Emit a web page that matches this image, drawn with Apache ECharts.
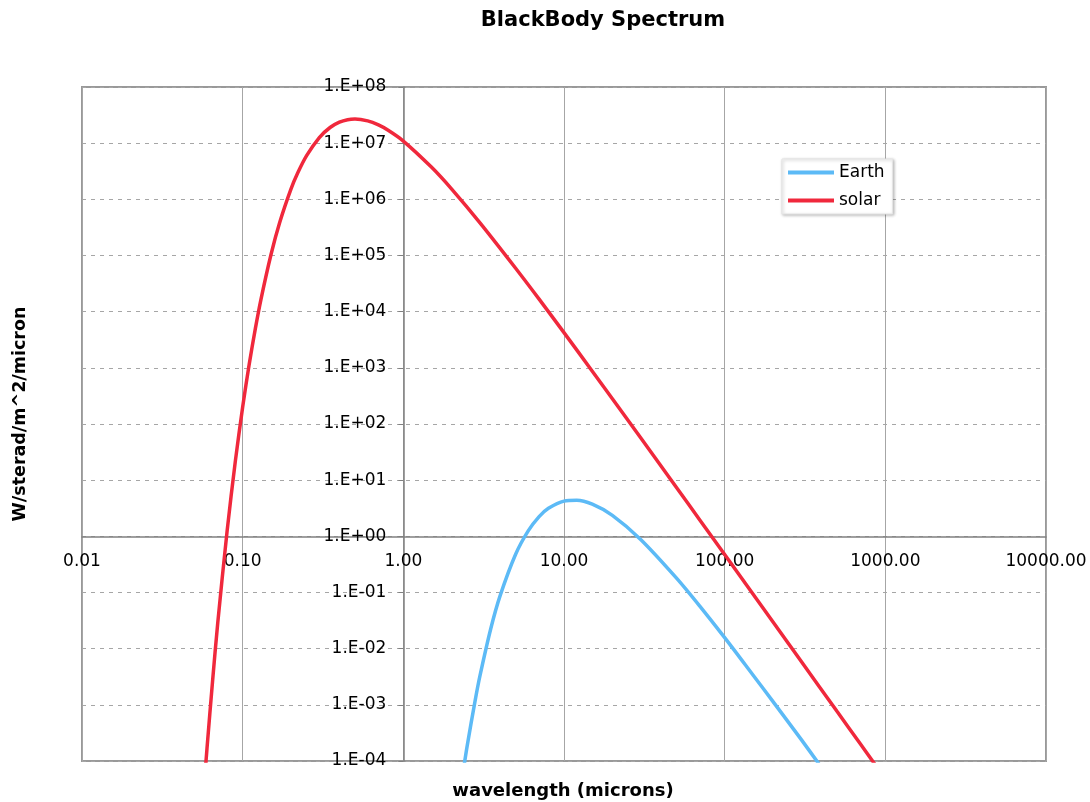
<!DOCTYPE html>
<html>
<head>
<meta charset="utf-8">
<script src="https://cdn.jsdelivr.net/npm/echarts@6/dist/echarts.min.js"></script>
<style>
  html, body { margin: 0; padding: 0; background: #fff; }
  #chart { width: 1090px; height: 802px; }
</style>
</head>
<body>
<div id="chart"></div>
<script>
// wavelengths (microns) and radiance
var solarWl = [0.058, 0.06, 0.065, 0.07, 0.08, 0.09, 0.1, 0.11, 0.12, 0.13, 0.15, 0.17, 0.2, 0.22, 0.25, 0.3, 0.35, 0.4, 0.45, 0.5, 0.6, 0.7, 0.8, 1, 1.5, 2, 3, 5, 7, 10, 15, 20, 30, 50, 70, 100, 150, 200, 300, 500, 700, 870];
var solarVal = [4.8e-5, 1.7e-4, 2.7e-3, 2.9e-2, 1.24, 21.6, 201, 1190, 5040, 1.66e4, 1.03e5, 3.86e5, 1.53e6, 2.93e6, 5.98e6, 1.26e7, 1.9e7, 2.36e7, 2.62e7, 2.69e7, 2.49e7, 2.11e7, 1.71e7, 1.09e7, 3.71e6, 1.52e6, 3.81e5, 5.93e4, 1.67e4, 4230, 872, 282, 56.9, 7.49, 1.96, 0.474, 0.094, 0.0298, 5.9e-3, 7.66e-4, 2.0e-4, 8.4e-5];

var earthWl = [2.3, 2.5, 2.8, 3, 3.5, 4, 5, 6, 7, 8, 10, 12, 15, 20, 30, 50, 70, 100, 150, 200, 300, 400];
var earthVal = [4.1e-5, 1.9e-4, 1.2e-3, 3.3e-3, 0.0226, 0.087, 0.479, 1.26, 2.24, 3.15, 4.24, 4.38, 3.73, 2.36, 0.88, 0.182, 0.0572, 0.0157, 3.4e-3, 1.14e-3, 2.4e-4, 7.7e-5];

var xTickLabels = ['0.01', '0.10', '1.00', '10.00', '100.00', '1000.00', '10000.00'];
var yTickLabels = ['1.E-04', '1.E-03', '1.E-02', '1.E-01', '1.E+00', '1.E+01', '1.E+02', '1.E+03', '1.E+04', '1.E+05', '1.E+06', '1.E+07', '1.E+08'];

function pairs(xs, ys) {
  return xs.map(function (x, i) { return [x, ys[i]]; });
}

var gridLeft = 82, gridTop = 87, gridW = 964, gridH = 674;

var myChart = echarts.init(document.getElementById('chart'));
var option = {
  backgroundColor: '#fff',
  animation: false,
  textStyle: { fontFamily: 'DejaVu Sans' },
  grid: {
    left: gridLeft,
    top: gridTop,
    width: gridW,
    height: gridH,
    show: true,
    borderColor: '#999',
    borderWidth: 2,
    containLabel: false
  },
  legend: {
    orient: 'vertical',
    left: 782,
    top: 159,
    padding: [5, 8, 5, 6],
    itemGap: 11,
    itemWidth: 46,
    itemHeight: 4,
    icon: 'rect',
    backgroundColor: '#fff',
    borderColor: '#e4e4e4',
    borderWidth: 1,
    shadowColor: 'rgba(0,0,0,0.25)',
    shadowBlur: 3,
    shadowOffsetX: 1,
    shadowOffsetY: 1,
    textStyle: { fontSize: 17, color: '#000' },
    data: ['Earth', 'solar']
  },
  xAxis: {
    type: 'log',
    logBase: 10,
    min: 0.01,
    max: 10000,
    interval: 1,
    position: 'bottom',
    offset: -gridH * 4 / 12,
    axisLine: { onZero: false, lineStyle: { color: '#808080', width: 1.5 } },
    axisTick: { show: false },
    axisLabel: {
      margin: 17,
      fontSize: 17,
      color: '#000',
      showMinLabel: true,
      showMaxLabel: true,
      formatter: function (v, i) { return xTickLabels[i]; }
    },
    splitLine: { show: true, lineStyle: { color: '#a6a6a6', width: 1 } },
    minorTick: { show: false }
  },
  yAxis: {
    type: 'log',
    logBase: 10,
    min: 1e-4,
    max: 1e8,
    interval: 1,
    position: 'left',
    offset: -gridW * 2 / 6,
    axisLine: { show: true, onZero: false, lineStyle: { color: '#808080', width: 1.5 } },
    axisTick: { show: true, length: 5, lineStyle: { color: '#808080' } },
    axisLabel: {
      margin: 17,
      fontSize: 17,
      color: '#000',
      showMinLabel: true,
      showMaxLabel: true,
      formatter: function (v, i) { return yTickLabels[i]; }
    },
    splitLine: { show: true, lineStyle: { color: '#a6a6a6', width: 1, type: [4, 5] } }
  },
  graphic: [
    {
      type: 'text',
      x: 603, y: 21,
      style: {
        text: 'BlackBody Spectrum',
        font: 'bold 21px "DejaVu Sans"',
        fill: '#000',
        textAlign: 'center', align: 'center',
        textVerticalAlign: 'middle', verticalAlign: 'middle'
      }
    },
    {
      type: 'text',
      x: 563, y: 791,
      style: {
        text: 'wavelength (microns)',
        font: 'bold 18px "DejaVu Sans"',
        fill: '#000',
        textAlign: 'center', align: 'center',
        textVerticalAlign: 'middle', verticalAlign: 'middle'
      }
    },
    {
      type: 'text',
      x: 20, y: 414,
      rotation: Math.PI / 2,
      style: {
        text: 'W/sterad/m^2/micron',
        font: 'bold 17.5px "DejaVu Sans"',
        fill: '#000',
        textAlign: 'center', align: 'center',
        textVerticalAlign: 'middle', verticalAlign: 'middle'
      }
    }
  ],
  series: [
    {
      name: 'Earth',
      type: 'line',
      data: pairs(earthWl, earthVal),
      smooth: 0.3,
      showSymbol: false,
      clip: true,
      color: '#5cbaf6',
      lineStyle: { width: 3.5, color: '#5cbaf6' }
    },
    {
      name: 'solar',
      type: 'line',
      data: pairs(solarWl, solarVal),
      smooth: 0.3,
      showSymbol: false,
      clip: true,
      color: '#f0283c',
      lineStyle: { width: 3.5, color: '#f0283c' }
    }
  ]
};
myChart.setOption(option);
window.onresize = function () {
  myChart.resize();
};
</script>
</body>
</html>
